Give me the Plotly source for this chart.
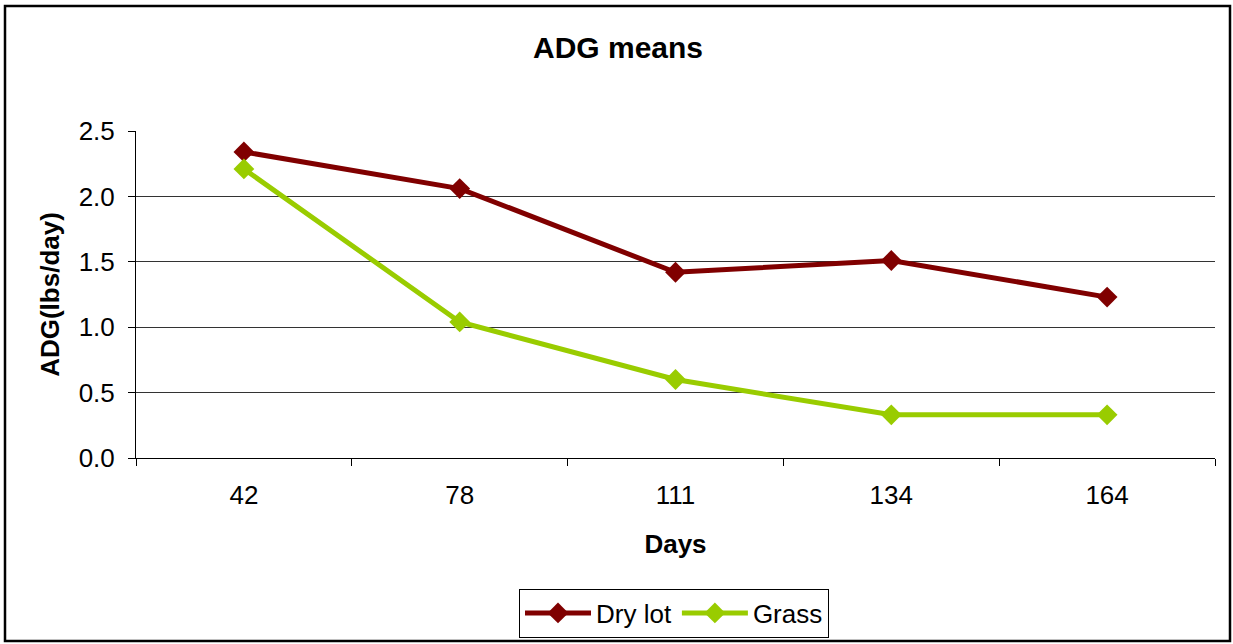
import plotly.graph_objects as go

days = ["42", "78", "111", "134", "164"]
dry_lot = [2.34, 2.06, 1.42, 1.51, 1.23]
grass = [2.21, 1.04, 0.60, 0.33, 0.33]
y_ticks = [0.0, 0.5, 1.0, 1.5, 2.0, 2.5]
y_tick_labels = ["0.0", "0.5", "1.0", "1.5", "2.0", "2.5"]

W, H = 1233, 644
L, R, T, B = 136, 18, 131, 186
pw, ph = W - L - R, H - T - B

def px_x(p):
    return (p - L) / pw

def px_y(p):
    return (H - B - p) / ph

font = "Liberation Sans, Arial, sans-serif"

fig = go.Figure()
fig.add_trace(go.Scatter(
    x=days, y=dry_lot, name="Dry lot", mode="lines+markers",
    line=dict(color="#800000", width=5),
    marker=dict(symbol="diamond", size=16, color="#800000"),
))
fig.add_trace(go.Scatter(
    x=days, y=grass, name="Grass", mode="lines+markers",
    line=dict(color="#99CC00", width=5),
    marker=dict(symbol="diamond", size=16, color="#99CC00"),
))

fig.update_layout(
    width=W, height=H,
    margin=dict(l=L, r=R, t=T, b=B, autoexpand=False),
    paper_bgcolor="white", plot_bgcolor="white",
    font=dict(family=font, size=26, color="black"),
    title=dict(text="<b>ADG means</b>", x=px_x(618), xref="paper", xanchor="center",
               y=1 - 47 / H, yanchor="middle", font=dict(size=30)),
    showlegend=True,
    legend=dict(orientation="h", x=px_x(674), xanchor="center", y=px_y(613), yanchor="middle",
                bordercolor="black", borderwidth=1, bgcolor="white",
                font=dict(size=26), tracegroupgap=0, itemwidth=66),
    xaxis=dict(
        type="category", categoryorder="array", categoryarray=days,
        range=[-0.5, len(days) - 0.5],
        tickson="boundaries", ticks="outside", ticklen=7, tickcolor="black",
        showline=True, linecolor="black", linewidth=1,
        showgrid=False, zeroline=False,
        tickfont=dict(size=26), ticklabelstandoff=14,
        title=dict(text="<b>Days</b>", font=dict(size=26), standoff=25),
    ),
    yaxis=dict(
        range=[0, 2.5], tickvals=y_ticks, ticktext=y_tick_labels,
        ticks="outside", ticklen=7, tickcolor="black",
        showline=True, linecolor="black", linewidth=1,
        showgrid=True, gridcolor="#333333", gridwidth=1,
        zeroline=False,
        tickfont=dict(size=26), ticklabelstandoff=8,
        title=dict(text="<b>ADG(lbs/day)</b>", font=dict(size=26), standoff=11),
    ),
    shapes=[dict(type="rect", xref="paper", yref="paper",
                 x0=px_x(5), x1=px_x(1230), y0=px_y(641), y1=px_y(6),
                 line=dict(color="black", width=2.5), fillcolor="rgba(0,0,0,0)",
                 layer="below")],
)

fig.write_html("out.html", config={"displayModeBar": False},
               post_script="document.body.style.margin='0px';document.body.style.overflow='hidden';")
